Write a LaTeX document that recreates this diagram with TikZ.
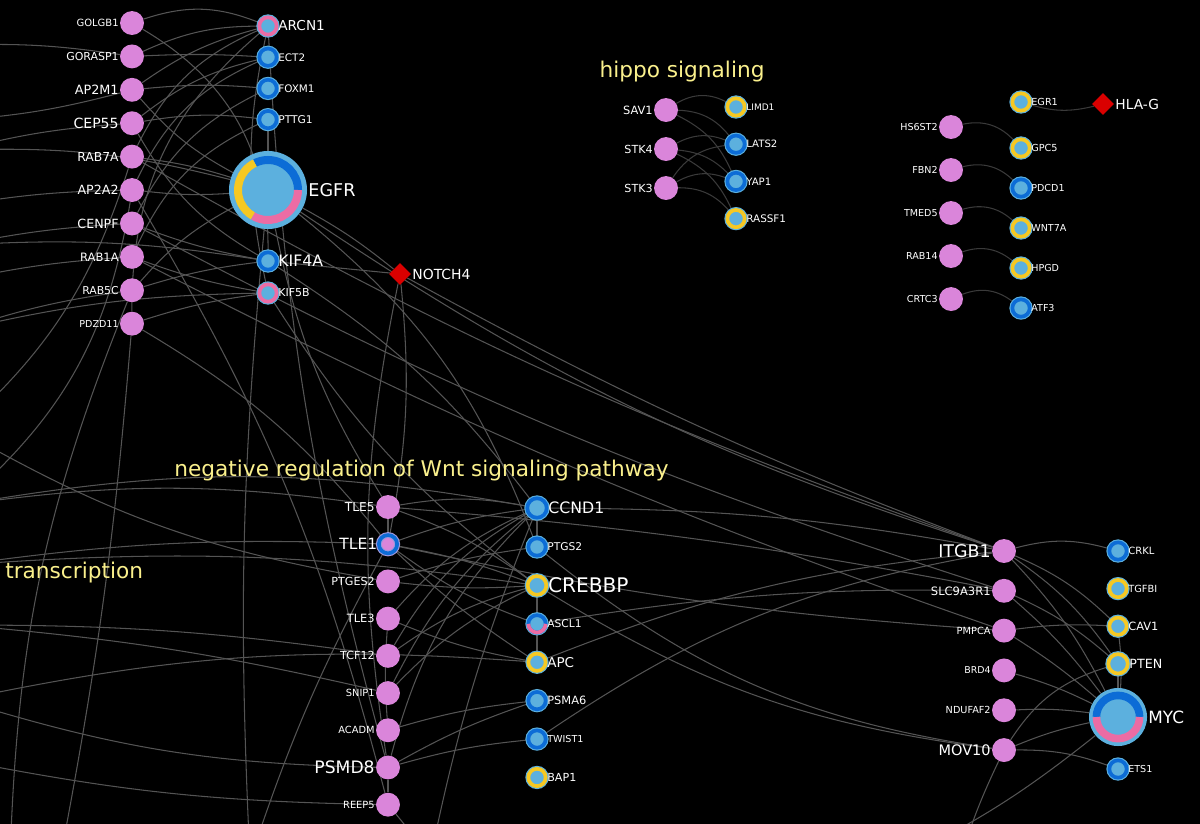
\documentclass[tikz,border=0pt]{standalone}
\usepackage{fontspec}
\setmainfont{DejaVu Sans}
\usetikzlibrary{shapes.geometric, positioning, backgrounds}

\definecolor{pinknode}{RGB}{218,133,218}
\definecolor{skyfill}{RGB}{92,176,222}
\definecolor{ringblue}{RGB}{12,108,214}
\definecolor{ringyellow}{RGB}{246,200,34}
\definecolor{ringpink}{RGB}{236,108,164}
\definecolor{edgegray}{RGB}{84,84,84}
\definecolor{edgedark}{RGB}{58,58,58}
\definecolor{hubred}{RGB}{218,0,0}
\definecolor{termyellow}{RGB}{250,240,140}

\begin{document}
\begin{tikzpicture}[
    x=0.025cm, y=-0.025cm,
    gene/.style={circle, fill=pinknode, inner sep=0pt, minimum size=17pt},
    marker/.style={circle, fill=skyfill, draw=skyfill, double=#1, double distance=2.6pt, line width=0.8pt, inner sep=0pt, minimum size=12.3pt},
    hubnode/.style={circle, fill=skyfill, inner sep=0pt, minimum size=#1},
    drug/.style={diamond, fill=hubred, inner sep=0pt, minimum size=0.55cm},
    lbl/.style={font=\fontsize{#1}{#1}\selectfont, text=white, inner sep=0.6pt},
    term/.style={font=\fontsize{15.4}{17}\selectfont, text=termyellow, inner sep=0pt},
    link/.style={draw=edgegray, line width=0.75pt},
    shortlink/.style={draw=edgedark, line width=0.75pt},
    on grid
  ]
    \useasboundingbox (0,0) rectangle (1200,823);

    % Nodes (top left)
    \node[gene, label={[lbl=7.1]left:GOLGB1}] (golgb1) at (132,23) {};
    \node[gene, below=0.835cm of golgb1, label={[lbl=7.8]left:GORASP1}] (gorasp1) {};
    \node[gene, below=0.835cm of gorasp1, label={[lbl=9.1]left:AP2M1}] (ap2m1) {};
    \node[gene, below=0.835cm of ap2m1, label={[lbl=10]left:CEP55}] (cep55) {};
    \node[gene, below=0.835cm of cep55, label={[lbl=8.8]left:RAB7A}] (rab7a) {};
    \node[gene, below=0.835cm of rab7a, label={[lbl=9]left:AP2A2}] (ap2a2) {};
    \node[gene, below=0.835cm of ap2a2, label={[lbl=9]left:CENPF}] (cenpf) {};
    \node[gene, below=0.835cm of cenpf, label={[lbl=8.2]left:RAB1A}] (rab1a) {};
    \node[gene, below=0.835cm of rab1a, label={[lbl=7.7]left:RAB5C}] (rab5c) {};
    \node[gene, below=0.835cm of rab5c, label={[lbl=6.8]left:PDZD11}] (pdzd11) {};

    \node[marker=ringpink, label={[lbl=9.7]right:ARCN1}] (arcn1) at (268,26) {};
    \node[marker=ringblue, below=0.78cm of arcn1, label={[lbl=7.4]right:ECT2}] (ect2) {};
    \node[marker=ringblue, below=0.78cm of ect2, label={[lbl=7.4]right:FOXM1}] (foxm1) {};
    \node[marker=ringblue, below=0.78cm of foxm1, label={[lbl=7.6]right:PTTG1}] (pttg1) {};
    \node[hubnode=1.95cm, label={[lbl=12.5]right:EGFR}] (egfr) at (268,190) {};
    \node[marker=ringblue, label={[lbl=11.2]right:KIF4A}] (kif4a) at (268,261) {};
    \node[marker=ringpink, below=0.8cm of kif4a, label={[lbl=7.8]right:KIF5B}] (kif5b) {};
    \node[drug, label={[lbl=9.9]right:NOTCH4}] (notch4) at (400,274) {};

    % Nodes (hippo signaling)
    \node[term] (hippo) at (682,72) {hippo signaling};
    \node[gene, label={[lbl=8.1]left:SAV1}] (sav1) at (666,110) {};
    \node[gene, below=0.975cm of sav1, label={[lbl=7.9]left:STK4}] (stk4) {};
    \node[gene, below=0.975cm of stk4, label={[lbl=7.9]left:STK3}] (stk3) {};
    \node[marker=ringyellow, label={[lbl=6.4]right:LIMD1}] (limd1) at (736,107) {};
    \node[marker=ringblue, below=0.93cm of limd1, label={[lbl=7.2]right:LATS2}] (lats2) {};
    \node[marker=ringblue, below=0.93cm of lats2, label={[lbl=7.2]right:YAP1}] (yap1) {};
    \node[marker=ringyellow, below=0.93cm of yap1, label={[lbl=7.4]right:RASSF1}] (rassf1) {};

    % Nodes (top right)
    \node[gene, label={[lbl=6.8]left:HS6ST2}] (hs6st2) at (951,127) {};
    \node[gene, below=1.075cm of hs6st2, label={[lbl=6.8]left:FBN2}] (fbn2) {};
    \node[gene, below=1.075cm of fbn2, label={[lbl=6.8]left:TMED5}] (tmed5) {};
    \node[gene, below=1.075cm of tmed5, label={[lbl=6.8]left:RAB14}] (rab14) {};
    \node[gene, below=1.075cm of rab14, label={[lbl=6.8]left:CRTC3}] (crtc3) {};
    \node[marker=ringyellow, label={[lbl=6.9]right:EGR1}] (egr1) at (1021,102) {};
    \node[marker=ringyellow, label={[lbl=6.9]right:GPC5}] (gpc5) at (1021,148) {};
    \node[marker=ringblue, below=1cm of gpc5, label={[lbl=6.8]right:PDCD1}] (pdcd1) {};
    \node[marker=ringyellow, below=1cm of pdcd1, label={[lbl=6.8]right:WNT7A}] (wnt7a) {};
    \node[marker=ringyellow, below=1cm of wnt7a, label={[lbl=6.8]right:HPGD}] (hpgd) {};
    \node[marker=ringblue, below=1cm of hpgd, label={[lbl=6.8]right:ATF3}] (atf3) {};
    \node[drug, label={[lbl=9.8]right:HLA-G}] (hlag) at (1103,104) {};

    % Nodes (Wnt)
    \node[term] (wnt) at (421.5,471) {negative regulation of Wnt signaling pathway};
    \node[term, anchor=west] (transcr) at (5,573) {transcription};
    \node[gene, label={[lbl=8.7]left:TLE5}] (tle5) at (388,507) {};
    \node[marker=ringblue, fill=pinknode, draw=pinknode!55!skyfill, minimum size=13pt, below=0.93cm of tle5, label={[lbl=11]left:TLE1}] (tle1) {};
    \node[gene, below=0.93cm of tle1, label={[lbl=7.9]left:PTGES2}] (ptges2) {};
    \node[gene, below=0.93cm of ptges2, label={[lbl=8.1]left:TLE3}] (tle3) {};
    \node[gene, below=0.93cm of tle3, label={[lbl=7.9]left:TCF12}] (tcf12) {};
    \node[gene, below=0.93cm of tcf12, label={[lbl=7]left:SNIP1}] (snip1) {};
    \node[gene, below=0.93cm of snip1, label={[lbl=7]left:ACADM}] (acadm) {};
    \node[gene, below=0.93cm of acadm, label={[lbl=12.2]left:PSMD8}] (psmd8) {};
    \node[gene, below=0.93cm of psmd8, label={[lbl=7]left:REEP5}] (reep5) {};

    \node[marker=ringblue, minimum size=13.8pt, label={[lbl=11.2]right:CCND1}] (ccnd1) at (537,508) {};
    \node[marker=ringblue, label={[lbl=7.6]right:PTGS2}] (ptgs2) at (537,547) {};
    \node[marker=ringyellow, minimum size=13.3pt, below=0.96cm of ptgs2, label={[lbl=14.3]right:CREBBP}] (crebbp) {};
    \node[marker=ringblue, below=0.96cm of crebbp, label={[lbl=7.6]right:ASCL1}] (ascl1) {};
    \node[marker=ringyellow, below=0.96cm of ascl1, label={[lbl=9.6]right:APC}] (apc) {};
    \node[marker=ringblue, below=0.96cm of apc, label={[lbl=8.1]right:PSMA6}] (psma6) {};
    \node[marker=ringblue, below=0.96cm of psma6, label={[lbl=6.8]right:TWIST1}] (twist1) {};
    \node[marker=ringyellow, below=0.96cm of twist1, label={[lbl=7.9]right:BAP1}] (bap1) {};
    \draw[ringpink, line width=2.6pt] ([shift={(180:6.15pt)}]ascl1.center) arc[start angle=180, end angle=360, radius=6.15pt];

    % Nodes (bottom right)
    \node[gene, label={[lbl=12.4]left:ITGB1}] (itgb1) at (1004,551) {};
    \node[gene, below=0.995cm of itgb1, label={[lbl=8.2]left:SLC9A3R1}] (slc9a3r1) {};
    \node[gene, below=0.995cm of slc9a3r1, label={[lbl=7]left:PMPCA}] (pmpca) {};
    \node[gene, below=0.995cm of pmpca, label={[lbl=6.7]left:BRD4}] (brd4) {};
    \node[gene, below=0.995cm of brd4, label={[lbl=6.9]left:NDUFAF2}] (ndufaf2) {};
    \node[gene, below=0.995cm of ndufaf2, label={[lbl=10.3]left:MOV10}] (mov10) {};
    \node[marker=ringblue, label={[lbl=7.1]right:CRKL}] (crkl) at (1118,551) {};
    \node[marker=ringyellow, below=0.94cm of crkl, label={[lbl=7]right:TGFBI}] (tgfbi) {};
    \node[marker=ringyellow, below=0.94cm of tgfbi, label={[lbl=8.1]right:CAV1}] (cav1) {};
    \node[marker=ringyellow, minimum size=13.8pt, below=0.94cm of cav1, label={[lbl=9]right:PTEN}] (pten) {};
    \node[hubnode=1.45cm, label={[lbl=12]right:MYC}] (myc) at (1118,717) {};
    \node[marker=ringblue, label={[lbl=6.8]right:ETS1}] (ets1) at (1118,769) {};

    % Hub rings
    \draw[ringblue, line width=0.2cm] ([shift={(0:0.75cm)}]egfr.center) arc[start angle=0, end angle=116, radius=0.75cm];
    \draw[ringyellow, line width=0.2cm] ([shift={(116:0.75cm)}]egfr.center) arc[start angle=116, end angle=240, radius=0.75cm];
    \draw[ringpink, line width=0.2cm] ([shift={(240:0.75cm)}]egfr.center) arc[start angle=240, end angle=360, radius=0.75cm];
    \draw[ringblue, line width=0.19cm] ([shift={(0:0.54cm)}]myc.center) arc[start angle=0, end angle=180, radius=0.54cm];
    \draw[ringpink, line width=0.19cm] ([shift={(180:0.54cm)}]myc.center) arc[start angle=180, end angle=360, radius=0.54cm];

    % Free ends off the frame
    \coordinate (offW1) at (-40,45);
    \coordinate (offW2) at (-40,120);
    \coordinate (offW3) at (-40,150);
    \coordinate (offW4) at (-40,205);
    \coordinate (offW5) at (-40,245);
    \coordinate (offW6) at (-40,280);
    \coordinate (offW7) at (-40,330);
    \coordinate (offW8) at (-40,430);
    \coordinate (offW9) at (-40,505);
    \coordinate (offW10) at (-40,565);
    \coordinate (offW11) at (-40,625);
    \coordinate (offW12) at (-40,700);
    \coordinate (offW13) at (-40,760);
    \coordinate (offS1) at (10,860);
    \coordinate (offS2) at (60,860);
    \coordinate (offS3) at (250,860);
    \coordinate (offS4) at (430,860);
    \coordinate (offS5) at (900,860);
    \coordinate (offS6) at (960,860);

    % Connections
    \begin{scope}[on background layer]
      \clip (0,0) rectangle (1200,823);
      \fill[black] (-10,-10) rectangle (1210,833);

      % hippo and top right
      \draw[shortlink] (sav1) to[bend left=30] (limd1);
      \draw[shortlink] (sav1) to[bend left=25] (lats2);
      \draw[shortlink] (sav1) to[bend left=20] (yap1);
      \draw[shortlink] (stk4) to[bend left=25] (lats2);
      \draw[shortlink] (stk4) to[bend left=20] (yap1);
      \draw[shortlink] (stk4) to[bend left=20] (rassf1);
      \draw[shortlink] (stk3) to[bend left=25] (lats2);
      \draw[shortlink] (stk3) to[bend left=25] (yap1);
      \draw[shortlink] (stk3) to[bend left=25] (rassf1);
      \draw[shortlink] (egr1) to[bend right=15] (hlag);
      \draw[shortlink] (hs6st2) to[bend left=30] (gpc5);
      \draw[shortlink] (fbn2) to[bend left=30] (pdcd1);
      \draw[shortlink] (tmed5) to[bend left=30] (wnt7a);
      \draw[shortlink] (rab14) to[bend left=30] (hpgd);
      \draw[shortlink] (crtc3) to[bend left=30] (atf3);

      % top left
      \draw[link] (golgb1) to[bend left=20] (arcn1);
      \draw[link] (gorasp1) to[bend left=12] (arcn1);
      \draw[link] (gorasp1) to[bend left=3] (ect2);
      \draw[link] (ap2m1) to[bend left=10] (arcn1);
      \draw[link] (ap2m1) to[bend left=5] (foxm1);
      \draw[link] (cep55) to[bend left=12] (ect2);
      \draw[link] (cep55) to[bend left=8] (pttg1);
      \draw[link] (cep55) to[bend right=15] (kif4a);
      \draw[link] (rab7a) to[bend left=20] (arcn1);
      \draw[link] (rab7a) to[bend left=5] (egfr);
      \draw[link] (ap2a2) to[bend left=20] (ect2);
      \draw[link] (ap2a2) to[bend right=5] (egfr);
      \draw[link] (cenpf) to[bend left=18] (foxm1);
      \draw[link] (cenpf) to[bend right=5] (kif4a);
      \draw[link] (rab1a) to[bend left=20] (pttg1);
      \draw[link] (rab1a) to[bend right=5] (kif5b);
      \draw[link] (rab5c) to[bend left=10] (egfr);
      \draw[link] (rab5c) to[bend left=5] (kif4a);
      \draw[link] (pdzd11) to[bend left=5] (kif5b);
      \draw[link] (pdzd11) to[bend left=25] (arcn1);
      \draw[link] (golgb1) to[bend left=30] (kif4a);
      \draw[link] (ap2m1) to[bend right=10] (egfr);
      \draw[link] (pttg1) -- (egfr);
      \draw[link] (arcn1) to[bend right=12] (kif5b);
      \draw[link] (egfr) to[bend left=5] (notch4);
      \draw[link] (kif4a) -- (notch4);
      \draw[link] (offW1) to[bend left=5] (gorasp1);
      \draw[link] (offW2) to[bend right=5] (ap2m1);
      \draw[link] (offW3) to[bend left=5] (cep55);
      \draw[link] (offW3) to[bend left=8] (egfr);
      \draw[link] (offW4) to[bend left=4] (ap2a2);
      \draw[link] (offW5) to[bend left=4] (cenpf);
      \draw[link] (offW5) to[bend left=6] (kif4a);
      \draw[link] (offW6) to[bend left=4] (rab1a);
      \draw[link] (offW7) to[bend left=5] (rab5c);
      \draw[link] (offW7) to[bend left=6] (kif5b);
      \draw[link] (offW8) to[bend right=15] (rab7a);
      \draw[link] (offW9) to[bend right=20] (ap2a2);
      \draw[link] (pdzd11) to[bend left=3] (offS2);
      \draw[link] (rab5c) to[bend right=10] (offS1);
      \draw[link] (egfr) to[bend right=4] (offS3);

      % long links
      \draw[link] (egfr) to[bend right=8] (itgb1);
      \draw[link] (rab7a) to[bend right=5] (itgb1);
      \draw[link] (cenpf) to[bend right=5] (slc9a3r1);
      \draw[link] (rab1a) to[bend right=4] (pmpca);
      \draw[link] (notch4) to[bend right=4] (itgb1);
      \draw[link] (notch4) to[bend left=8] (tle1);
      \draw[link] (notch4) to[bend right=10] (psmd8);
      \draw[link] (kif4a) to[bend left=10] (ccnd1);
      \draw[link] (egfr) to[bend right=10] (tle5);
      \draw[link] (egfr) to[bend left=15] (ptgs2);
      \draw[link] (arcn1) to[bend right=6] (psmd8);
      \draw[link] (ap2a2) to[bend left=8] (reep5);
      \draw[link] (pdzd11) to[bend left=10] (tle1);
      \draw[link] (kif5b) to[bend right=10] (crebbp);

      % Wnt
      \draw[link] (tle5) to[bend left=10] (ccnd1);
      \draw[link] (tle5) to[bend left=8] (crebbp);
      \draw[link] (tle5) -- (tle1);
      \draw[link] (tle1) to[bend left=6] (ccnd1);
      \draw[link] (tle1) to[bend left=5] (crebbp);
      \draw[link] (tle1) to[bend right=5] (apc);
      \draw[link] (tle1) to[bend right=8] (ascl1);
      \draw[link] (ptges2) to[bend left=5] (ptgs2);
      \draw[link] (ptges2) to[bend right=5] (crebbp);
      \draw[link] (tle3) to[bend right=6] (apc);
      \draw[link] (tle3) to[bend left=12] (ccnd1);
      \draw[link] (tcf12) to[bend left=15] (ccnd1);
      \draw[link] (tcf12) to[bend left=10] (crebbp);
      \draw[link] (snip1) to[bend left=10] (crebbp);
      \draw[link] (snip1) to[bend left=12] (ccnd1);
      \draw[link] (acadm) to[bend left=5] (psma6);
      \draw[link] (psmd8) to[bend left=5] (psma6);
      \draw[link] (psmd8) to[bend left=15] (ccnd1);
      \draw[link] (psmd8) to[bend left=5] (twist1);
      \draw[link] (psmd8) -- (reep5);
      \draw[link] (tle3) to[bend right=4] (acadm);
      \draw[link] (ccnd1) -- (ptgs2);
      \draw[link] (crebbp) -- (apc);
      \draw[link] (offW9) to[bend left=10] (ccnd1);
      \draw[link] (offW9) to[bend left=8] (tle5);
      \draw[link] (offW10) to[bend left=5] (tle1);
      \draw[link] (offW10) to[bend left=6] (crebbp);
      \draw[link] (offW11) to[bend left=4] (tcf12);
      \draw[link] (offW11) to[bend left=4] (snip1);
      \draw[link] (offW12) to[bend right=8] (psmd8);
      \draw[link] (offW13) to[bend right=5] (reep5);
      \draw[link] (offW12) to[bend left=8] (apc);
      \draw[link] (offW8) to[bend right=10] (ptges2);
      \draw[link] (offS3) to[bend left=5] (tle1);
      \draw[link] (offS4) to[bend left=5] (ccnd1);
      \draw[link] (reep5) to[bend left=3] (offS4);

      % Wnt to bottom right
      \draw[link] (ccnd1) to[bend left=5] (itgb1);
      \draw[link] (ascl1) to[bend left=5] (slc9a3r1);
      \draw[link] (apc) to[bend left=8] (itgb1);
      \draw[link] (twist1) to[bend left=12] (itgb1);
      \draw[link] (ptgs2) to[bend right=15] (mov10);
      \draw[link] (crebbp) to[bend right=12] (mov10);
      \draw[link] (tle1) to[bend right=4] (pmpca);
      \draw[link] (tle5) to[bend left=3] (slc9a3r1);

      % bottom right
      \draw[link] (itgb1) to[bend left=15] (crkl);
      \draw[link] (itgb1) to[bend left=10] (cav1);
      \draw[link] (itgb1) to[bend left=10] (pten);
      \draw[link] (itgb1) to[bend left=8] (myc);
      \draw[link] (slc9a3r1) to[bend left=8] (pten);
      \draw[link] (slc9a3r1) to[bend left=6] (myc);
      \draw[link] (pmpca) to[bend left=5] (cav1);
      \draw[link] (pmpca) to[bend left=4] (myc);
      \draw[link] (brd4) to[bend left=5] (myc);
      \draw[link] (ndufaf2) to[bend left=5] (myc);
      \draw[link] (mov10) to[bend left=5] (myc);
      \draw[link] (mov10) to[bend left=20] (pten);
      \draw[link] (mov10) to[bend left=10] (ets1);
      \draw[link] (pten) -- (myc);
      \draw[link] (cav1) to[bend left=5] (myc);
      \draw[link] (mov10) to[bend right=4] (offS6);
      \draw[link] (myc) to[bend left=6] (offS5);
    \end{scope}

  \end{tikzpicture}
\end{document}
